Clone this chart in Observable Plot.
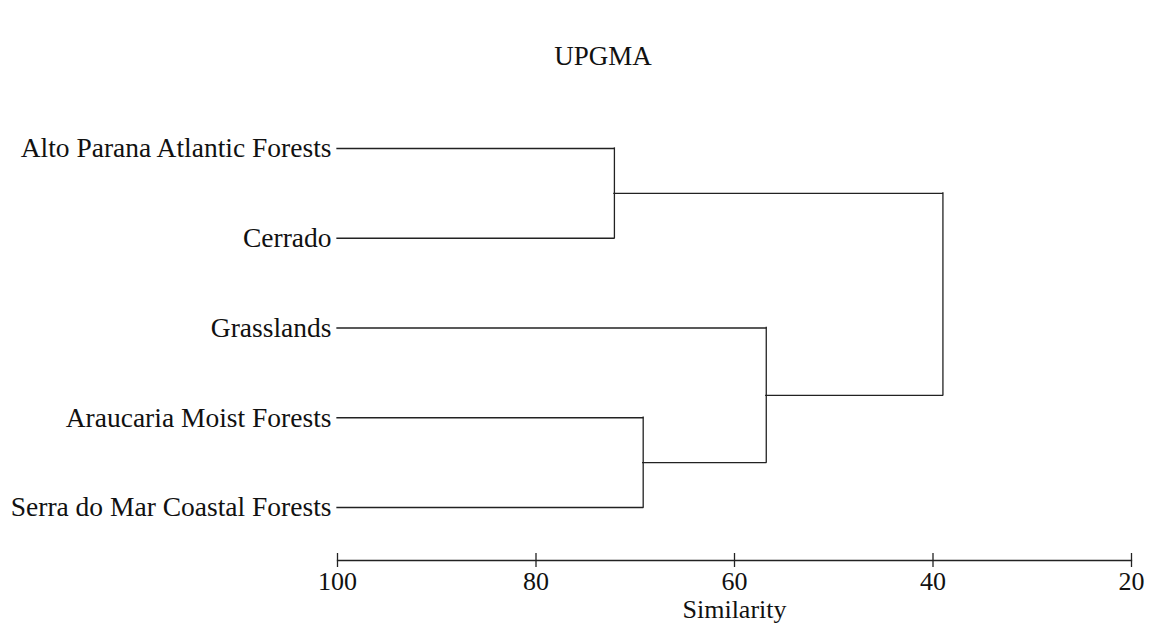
<!DOCTYPE html>
<html>
<head>
<meta charset="utf-8">
<script src="https://cdn.jsdelivr.net/npm/d3@7"></script>
<script src="https://cdn.jsdelivr.net/npm/@observablehq/plot@0.6"></script>
<style>
  body { margin: 0; background: #fff; }
  #title { width: 1150px; box-sizing: border-box; height: 90px; padding-top: 43px; padding-left: 56px;
    text-align: center; font-family: "Liberation Serif", serif; font-size: 27px; line-height: 27px; color: #111; }
</style>
</head>
<body>
<div id="title">UPGMA</div>
<div id="chart"></div>
<script>
// Leaves (top to bottom)
const leaves = ["Alto Parana Atlantic Forests", "Cerrado", "Grasslands", "Araucaria Moist Forests", "Serra do Mar Coastal Forests"];
const leafSimilarity = 100;
// Merges (UPGMA clustering)
const mergeName = ["C1", "C2", "C3", "C4"];
const mergeA = ["Alto Parana Atlantic Forests", "Araucaria Moist Forests", "Grasslands", "C1"];
const mergeB = ["Cerrado", "Serra do Mar Coastal Forests", "C2", "C3"];
const mergeSim = [72.1, 69.2, 56.8, 39.0];
const xTicks = [100, 80, 60, 40, 20];

// Build node positions
const nodes = new Map();
leaves.forEach((name, i) => nodes.set(name, {pos: i, sim: leafSimilarity}));
const horiz = [], vert = [];
mergeName.forEach((name, i) => {
  const a = nodes.get(mergeA[i]), b = nodes.get(mergeB[i]);
  const s = mergeSim[i];
  horiz.push({y: a.pos, x1: a.sim, x2: s});
  horiz.push({y: b.pos, x1: b.sim, x2: s});
  vert.push({x: s, y1: a.pos, y2: b.pos});
  nodes.set(name, {pos: (a.pos + b.pos) / 2, sim: s});
});
const leafData = leaves.map((name, i) => ({name, pos: i, sim: leafSimilarity}));

const stroke = "#222";
const chart = Plot.plot({
  width: 1150,
  height: 534,
  marginLeft: 337,
  marginRight: 19,
  marginTop: 20,
  marginBottom: 64,
  style: {fontFamily: "Liberation Serif, serif", fontSize: "26px", color: "#111", background: "#fff"},
  x: {domain: [100, 20], label: null},
  y: {domain: [0, 4], range: [58, 417], axis: null},
  marks: [
    Plot.ruleY(horiz, {y: "y", x1: "x1", x2: "x2", stroke, strokeWidth: 1.3, strokeLinecap: "square"}),
    Plot.ruleX(vert, {x: "x", y1: "y1", y2: "y2", stroke, strokeWidth: 1.3, strokeLinecap: "square"}),
    Plot.text(leafData, {x: "sim", y: "pos", text: "name", textAnchor: "end", dx: -6, fontSize: 27.5, fill: "#111"}),
    Plot.frame({anchor: "bottom", stroke, strokeWidth: 1.3}),
    Plot.axisX({ticks: xTicks, tickSize: 14, dy: -7, tickPadding: 4, fontSize: 26, stroke, strokeWidth: 1.3, label: null}),
    Plot.text(["Similarity"], {frameAnchor: "bottom", lineAnchor: "top", dy: 39, fontSize: 26, fill: "#111"})
  ]
});
document.getElementById("chart").appendChild(chart);
</script>
</body>
</html>
